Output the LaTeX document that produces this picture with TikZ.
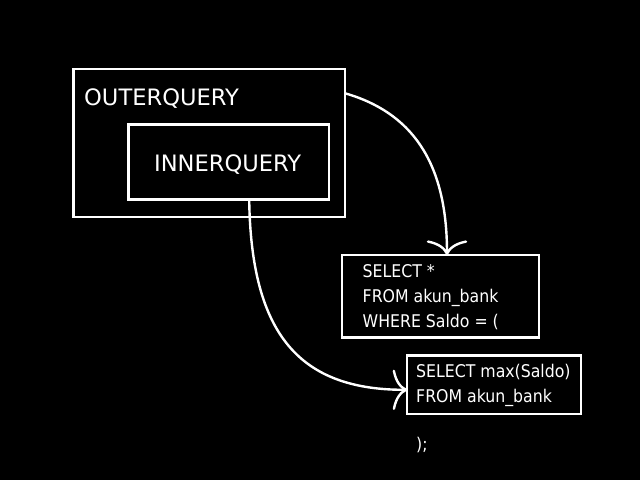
\documentclass[tikz,border=0pt]{standalone}
\usepackage{fontspec}
\setmainfont{DejaVu Sans Condensed}
\newfontfamily\titlefont{DejaVu Sans}
\usetikzlibrary{arrows.meta,calc}
\tikzset{
  box/.style={draw=white, line width=2.4pt, inner sep=0pt, outer sep=0pt},
  title/.style={text=white, inner sep=0pt, font=\titlefont\fontsize{22.6}{28}\selectfont},
  sql/.style={text=white, inner sep=0pt, anchor=base west, font=\fontsize{17.5}{21}\selectfont},
  link/.style={draw=white, line width=2.4pt, -{Computer Modern Rightarrow[width=36pt,length=13pt,line width=2.4pt,scale=1.12]}}
}
\begin{document}
\begin{tikzpicture}[x=1pt,y=-1pt]
\fill[black] (0,0) rectangle (640,480);
\useasboundingbox (0,0) rectangle (640,480);
\node[box, minimum width=271.5pt, minimum height=147.5pt] (outer) at (209.2,143) {};
\node[box, minimum width=200.7pt, minimum height=75pt] (inner) at (228.7,161.8) {};
\node[box, minimum width=197.5pt, minimum height=82.5pt] (q1) at (440.5,296.2) {};
\node[box, minimum width=173.5pt, minimum height=58.5pt] (q2) at (494,384.8) {};
\node[title, anchor=base west] (ot) at (84,105.7) {OUTERQUERY};
\node[title, anchor=base] (it) at (227.7,171) {INNERQUERY};
\node[sql] (l1) at (362.5,277) {SELECT *};
\node[sql] (l2) at (362.5,302) {FROM akun\_bank};
\node[sql] (l3) at (362.5,327) {WHERE Saldo = (};
\node[sql] (l4) at (416,377) {SELECT max(Saldo)};
\node[sql] (l5) at (416,402) {FROM akun\_bank};
\node[sql] (l6) at (416,450) {);};
\coordinate (a1s) at ($(outer.north east)+(0,24)$);
\coordinate (a1e) at ($(q1.north)+(6.5,0)$);
\coordinate (a2s) at ($(inner.south)+(20.5,0)$);
\coordinate (a2e) at ($(q2.west)+(0,5)$);
\draw[link] (a1s) .. controls (410,112) and (447,160) .. (a1e);
\draw[link] (a2s) .. controls (251,335) and (300,390) .. (a2e);
\end{tikzpicture}
\end{document}
